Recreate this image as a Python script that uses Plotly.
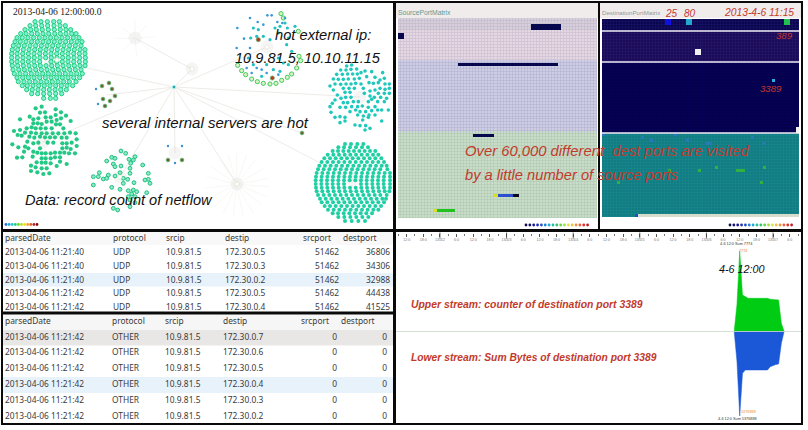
import numpy as np
import pandas as pd
import plotly.graph_objects as go

# ---------- network panel data (read in image crops: value/3 + offset = pixel) ----------
A_ROWS = [
 (20,[90,108,127,146,163]),
 (32,[75,92,110,128,147,165,181]),
 (44,[60,77,94,112,130,148,166,183,197]),
 (56,[47,63,80,97,114,131,149,166,183,200,213]),
 (68,[36,52,69,86,103,120,137,154,171,188,205,222]),
 (80,[30,46,63,80,97,114,131,148,165,182,199,216,231]),
 (92,[25,41,58,75,92,109,126,143,160,177,194,211,228]),
 (104,[22,38,55,72,89,106,123,140,157,174,191,208,225,240]),
 (116,[20,36,53,70,87,104,121,138,155,172,189,206,223,240]),
 (128,[20,37,54,71,88,105,122,139,156,173,190,207,224,241]),
 (140,[20,36,53,70,87,104,138,155,172,189,206,223,241]),
 (152,[22,38,55,72,89,106,123,140,157,174,191,208,225,240]),
 (164,[24,41,58,75,92,109,126,143,160,177,194,211,228]),
 (176,[28,45,62,79,96,113,130,147,164,181,198,215,232]),
 (188,[36,53,70,87,104,121,138,155,172,189,206,224]),
 (200,[40,57,74,91,108,125,142,159,176,193,213]),
 (212,[52,67,84,101,118,135,152,169,186,203]),
 (224,[65,82,99,116,133,150,167,184]),
 (236,[80,98,116,134,152,170]),
 (250,[116,136,152]),
]
F_ROWS = [
 (12,[105,123,142,160]),
 (22,[85,102,120,138,156,174]),
 (33,[68,84,100,116,132,148,164,180,196]),
 (44,[53,70,87,104,121,138,155,172,189,205]),
 (55,[43,60,77,94,111,128,145,162,179,196,214]),
 (66,[35,52,69,86,103,120,137,154,171,188,205,222]),
 (77,[28,45,62,79,96,113,130,147,164,181,198,215,230]),
 (88,[24,41,58,75,92,109,126,143,160,177,194,211,232]),
 (99,[20,37,54,71,88,105,122,139,156,173,190,207,224,240]),
 (110,[18,35,52,69,86,103,120,137,154,171,188,205,222,240]),
 (121,[17,34,51,68,85,102,119,136,153,170,187,204,221,240]),
 (132,[17,34,51,68,85,102,153,170,187,204,221,240]),
 (143,[18,35,52,69,86,103,120,137,154,171,188,205,222,240]),
 (154,[20,37,54,71,88,105,122,139,156,173,190,207,224,238]),
 (165,[24,41,58,75,92,109,126,143,160,177,194,211,230]),
 (176,[30,47,64,81,98,115,132,149,166,183,200,217,228]),
 (187,[35,52,69,86,103,120,137,154,171,188,205,222]),
 (198,[44,60,77,94,111,128,145,162,179,196,213]),
 (209,[54,71,88,105,122,139,156,173,190,205]),
 (220,[68,84,101,118,135,152,169,186]),
 (231,[85,103,121,139,157,175]),
 (243,[105,125,145,165]),
]
B_POINTS = [(92,25),(110,20),(152,28),(105,38),(120,37),(152,45),(168,37),(183,47),(74,50),(45,58),(85,58),(100,55),(122,52),(137,52),(155,60),(168,55),(197,63),(85,70),(98,70),(110,72),(125,65),(140,65),(153,73),(165,73),(65,85),(80,82),(92,85),(107,85),(122,85),(140,85),(175,85),(27,93),(45,90),(60,98),(78,98),(93,100),(110,100),(125,100),(143,100),(160,100),(178,100),(195,98),(212,100),(38,105),(50,107),(73,110),(88,113),(105,110),(120,112),(135,112),(150,112),(170,113),(185,113),(215,118),(67,125),(85,130),(100,128),(128,128),(145,128),(172,130),(185,130),(200,128),(215,138),(22,133),(40,142),(60,140),(70,145),(105,145),(172,145),(185,143),(197,147),(57,155),(85,155),(97,158),(110,160),(122,160),(137,160),(150,158),(165,158),(178,158),(192,160),(210,160),(36,173),(52,172),(83,170),(110,175),(122,175),(137,175),(150,172),(165,172),(95,187),(110,188),(122,188),(137,190),(155,198),(185,192),(165,185),(78,197),(92,202),(110,205),(125,205),(78,213),(97,217),(115,222),(133,220)]
C_POINTS = [(108,33),(122,40),(150,50),(80,52),(90,55),(65,63),(132,58),(145,60),(137,70),(173,75),(85,72),(90,80),(108,78),(135,85),(43,98),(70,105),(105,98),(135,100),(25,110),(40,110),(55,117),(65,115),(90,108),(115,115),(128,118),(190,100),(190,118),(180,120),(195,130),(25,135),(80,142),(115,130),(147,128),(105,148),(130,152),(145,150),(155,155),(140,162),(130,170),(150,170),(185,158),(135,180),(150,188),(135,200),(85,205),(98,210)]
E_POINTS = [(65,18),(80,15),(47,30),(63,30),(78,28),(95,27),(108,38),(35,43),(52,43),(68,42),(83,42),(97,42),(120,33),(140,35),(173,38),(25,57),(40,58),(55,58),(70,57),(88,57),(103,55),(125,50),(150,52),(165,60),(178,55),(15,78),(30,72),(47,73),(63,72),(78,72),(92,70),(108,72),(132,68),(145,70),(160,68),(180,72),(193,72),(25,90),(55,85),(72,85),(88,85),(115,85),(150,90),(165,85),(180,88),(193,85),(37,105),(60,97),(75,97),(118,100),(135,93),(160,100),(178,100),(193,100),(30,120),(48,115),(62,112),(78,112),(135,108),(148,112),(167,112),(185,115),(22,130),(55,128),(68,128),(85,125),(100,125),(130,125),(140,118),(158,125),(178,125),(15,140),(45,142),(62,142),(80,140),(98,140),(112,138),(130,142),(150,140),(170,150),(190,150),(18,157),(75,155),(92,150),(105,155),(122,155),(140,152),(158,150),(30,172),(45,170),(60,172),(98,165),(115,168),(132,165),(150,165),(45,188),(60,183),(113,180),(130,172),(90,195),(105,197),(122,197),(170,183),(120,210),(135,205)]
D_RINGS = [(153,17),(23,172),(35,188),(47,200),(65,213),(82,221),(100,226),(120,228),(138,226),(155,217),(172,208),(185,198),(200,180),(212,158),(207,145),(160,30),(205,70)]
D_BLUE = [(22,60),(60,30),(83,42),(100,50),(112,22),(125,22),(142,42),(157,45),(165,30),(42,92),(60,120),(20,120),(50,180),(65,195),(80,180),(95,185),(110,195),(145,200)]
D_TEAL = [(70,60),(85,65),(62,90),(80,85),(100,85),(135,60),(150,55),(172,60),(165,45),(175,90),(195,55),(120,95),(145,75),(170,110),(185,130),(150,190),(160,165),(175,170),(70,170),(55,150),(95,205),(130,185),(110,170),(145,150)]
D_HOT = [(85,95),(127,210)]
# pixel positions of the small nodes
G_HOT = [(102,86),(109,83),(112,89),(115,96),(103,99),(110,101),(105,106),(302,133),(168,160),(182,160)]
G_BLUE = [(98,104),(96,89),(168,146),(182,146),(175,163)]
HUB = (174,87)
EDGE_ENDS = [(50,60),(192,69),(267,47),(360,97),(43,142),(120,177),(353,180),(237,184),(175,153),(302,133),(107,95)]
EXTRA_EDGE = [(135,38),(192,69)]
STAR_BIG = [(710,460),(740,465),(765,480),(790,505),(805,535),(810,560),(800,590),(785,615),(760,640),(730,650),(700,650),(670,640),(645,620),(625,595),(615,565),(620,530),(635,500),(660,480),(685,465)]
STAR_TOP = [(405,60),(440,75),(465,110),(450,150),(410,170),(370,150),(345,115),(365,80)]
GLOW = [(50,60),(43,142),(120,177),(267,47),(360,97),(353,180),(237,184),(135,38),(175,153),(192,69)]
NET_LEGEND = ['#1f77d0','#1fa8e0','#22c8c8','#22cc88','#55dd33','#bbdd22','#eedd22','#f0a030','#e06030','#c02020','#801010']

# ---------- matrix data ----------
SRC_BAND_ENDS = [4,14,38,67]
SRC_COLORS = ['#d8cfdc','#e4d8e3','#cdcde3','#c8dcc8']
SRC_GAP = ['#c4bccc','#cfc0d2','#b6b6d4','#b4ccb6']
SRC_HOT_COLORS = ['#07074d','#2b4fd0','#0a0a20','#d8e020','#22c020']
SRC_HOT_ROW  = [2,3,5,6,15,39,59,59,59,64,64]
SRC_HOT_FROM = [44,44,0,0,20,25,32,33,38,12,13]
SRC_HOT_TO   = [53,53,1,1,52,31,32,37,39,12,18]
SRC_HOT_CODE = [0,0,0,0,0,0,3,1,2,3,4]

DST_BAND_ENDS = [4,14,38,66]
DST_COLORS = ['#0b0650','#1b0a58','#05004c','#127c84']
DST_GAP = ['#1b1668','#2a1a6c','#07025a','#1a8a8e']
DST_HOT_COLORS = ['#1010e0','#22a8cc','#22c050','#f0f0f0','#30a8e0','#2a78b8','#33b040','#d8dccc','#2050c0']
DST_HOT_ROW  = [0,1,0,1,0,1,10,11,20,36,37,38,39,40,38,40,41,39,41,50,50,49,50,49,54,54,65,65]
DST_HOT_FROM = [21,21,28,28,61,61,31,31,57,65,65,0,13,16,24,28,35,50,54,22,32,38,45,54,5,53,11,12]
DST_HOT_TO   = [22,22,29,29,62,62,32,32,57,65,65,0,13,16,24,28,36,50,54,22,32,38,47,54,5,53,11,65]
DST_HOT_CODE = [0,0,1,1,2,2,3,3,4,3,3,5,5,5,5,5,5,5,5,6,6,6,6,6,6,6,8,7]
MATRIX_LEGEND = ['#10104a','#14146a','#1a1a90','#2030b0','#2050d0','#2080d8','#20a8d0','#20c0a0','#30c860','#60d840','#a0e040','#e0e040','#f0c040','#f09040','#f06040','#e03030','#c02020']

# ---------- table data ----------
TABLE_HEADERS = ['parsedDate','protocol','srcip','destip','srcport','destport']
T1_DATE = ['2013-04-06 11:21:40','2013-04-06 11:21:40','2013-04-06 11:21:40','2013-04-06 11:21:42','2013-04-06 11:21:42']
T1_PROTO = ['UDP']*5
T1_SRC = ['10.9.81.5']*5
T1_DST = ['172.30.0.5','172.30.0.3','172.30.0.2','172.30.0.5','172.30.0.4']
T1_SPORT = [51462]*5
T1_DPORT = [36806,34306,32988,44438,41525]
T2_DATE = ['2013-04-06 11:21:42']*6
T2_PROTO = ['OTHER']*6
T2_SRC = ['10.9.81.5']*6
T2_DST = ['172.30.0.7','172.30.0.6','172.30.0.5','172.30.0.4','172.30.0.3','172.30.0.2']
T2_SPORT = [0]*6
T2_DPORT = [0]*6

# ---------- stream data ----------
STREAM_TIME = ['2013-04-06 10:00','2013-04-06 11:00','2013-04-06 12:00','2013-04-06 13:00','2013-04-06 14:00','2013-04-06 15:00','2013-04-06 16:00','2013-04-06 17:00','2013-04-06 18:00','2013-04-06 19:00','2013-04-06 20:00','2013-04-06 21:00','2013-04-06 22:00','2013-04-06 23:00','2013-04-07 00:00','2013-04-07 01:00','2013-04-07 02:00','2013-04-07 03:00','2013-04-07 04:00']
STREAM_COUNT = [0,2574,7774,3506,3345,3185,3185,3185,3185,3185,3185,3185,3185,3088,3060,3040,3024,772,0]
STREAM_BYTES = [0,1905000,5376888,2667000,2456000,2456000,2456000,2456000,2456000,2456000,2456000,2456000,2456000,2244000,2159000,2110000,2075000,762000,0]

W, H = 808, 430
def dom_y(top, bottom):
    return [1 - bottom / H, 1 - top / H]
def dom_x(left, right):
    return [left / W, right / W]

fig = go.Figure()

def from_crop(points, ox, oy):
    return [ox + p[0] / 3 for p in points], [oy + p[1] / 3 for p in points]
def from_rows(rows, ox, oy):
    pts = [(x, r[0]) for r in rows for x in r[1]]
    return from_crop(pts, ox, oy)

# edges
ex, ey = [], []
for p in EDGE_ENDS:
    ex += [HUB[0], p[0], None]; ey += [HUB[1], p[1], None]
ex += [EXTRA_EDGE[0][0], EXTRA_EDGE[1][0], None]; ey += [EXTRA_EDGE[0][1], EXTRA_EDGE[1][1], None]
fig.add_trace(go.Scatter(x=ex, y=ey, mode='lines', line=dict(color='#eeece8', width=1), hoverinfo='skip'))
# faint stars
sx, sy = [], []
for c, leaves in (((710,553), STAR_BIG), ((405,115), STAR_TOP)):
    for l in leaves:
        sx += [c[0]/3, l[0]/3, None]; sy += [c[1]/3, l[1]/3, None]
fig.add_trace(go.Scatter(x=sx, y=sy, mode='lines', line=dict(color='#f3f3f0', width=0.7), hoverinfo='skip'))
fig.add_trace(go.Scatter(x=[p[0] for p in GLOW], y=[p[1] for p in GLOW], mode='markers',
    marker=dict(size=13, color='rgba(210,210,210,0.22)'), hoverinfo='skip'))

def dots(x, y, color, size=4, line=None, lw=1):
    fig.add_trace(go.Scatter(x=x, y=y, mode='markers', hoverinfo='skip',
        marker=dict(size=size, color=color, line=dict(color=line or color, width=lw if line else 0))))

dots(*from_rows(A_ROWS, 5, 15), '#7ff0d8', 4.2, '#22cc78', 1)
dots(*from_crop(B_POINTS, 5, 100), '#22c884', 4.2)
dots(*from_crop(C_POINTS, 85, 140), '#8cebc8', 3.8, '#22c080', 1)
dots(*from_crop(E_POINTS, 325, 60), '#20c8bc', 3.6)
dots(*from_rows(F_ROWS, 310, 140), '#1fd0a4', 4)
dots(*from_crop(D_RINGS, 230, 8), '#d8f4c0', 4.2, '#44c860', 1)
dots(*from_crop(D_BLUE, 230, 8), '#3a9ad8', 2.6)
dots(*from_crop(D_TEAL, 230, 8), '#22c0c0', 3.2)
dots(*from_crop(D_HOT, 230, 8), '#b8341c', 4.2, '#70b070', 0.8)
dots([p[0] for p in G_HOT], [p[1] for p in G_HOT], '#7a5a30', 3.6, '#5fb070', 1)
dots([p[0] for p in G_BLUE], [p[1] for p in G_BLUE], '#3a90d8', 2.4)
dots([HUB[0]], [HUB[1]], '#1a9a9a', 3.2, '#9af0f0', 1)
dots([57, 192, 237, 267, 120], [60, 69, 184, 47, 177], '#ffffff', 4, '#e0e0c8', 0.6)
for i, c in enumerate(NET_LEGEND):
    dots([6 + i * 3.1], [224.5], c, 2.8)
for i, c in enumerate(MATRIX_LEGEND):
    dots([526 + i * 3.85], [225], c, 2.8)
    dots([730 + i * 3.85], [225], c, 2.8)

# matrices: a gridded base layer and a solid layer for the hot cells
def build_bands(ends, n_cols):
    z = np.zeros((ends[-1], n_cols), dtype=int)
    start = 0
    for k, e in enumerate(ends):
        z[start:e, :] = k
        start = e
    return z
def build_hot(n_rows, n_cols, rows, froms, tos, codes):
    z = np.full((n_rows, n_cols), np.nan)
    for r, a, b, c in zip(rows, froms, tos, codes):
        z[r, a:b + 1] = c
    return z
def discrete(colors):
    n = len(colors)
    out = []
    for i, c in enumerate(colors):
        out += [[i / n, c], [(i + 1) / n, c]]
    return out
def add_matrix(ends, colors, hot_colors, rows, froms, tos, codes, xa, ya, gap):
    base = build_bands(ends, 66)
    fig.add_trace(go.Heatmap(z=base, xaxis=xa, yaxis=ya, colorscale=discrete(colors), zmin=-0.5,
        zmax=len(colors)-0.5, showscale=False, xgap=gap, ygap=gap, hoverinfo='skip'))
    fig.add_trace(go.Heatmap(z=build_hot(ends[-1], 66, rows, froms, tos, codes), xaxis=xa, yaxis=ya,
        colorscale=discrete(hot_colors), zmin=-0.5, zmax=len(hot_colors)-0.5, showscale=False, hoverinfo='skip'))

add_matrix(SRC_BAND_ENDS, SRC_COLORS, SRC_HOT_COLORS, SRC_HOT_ROW, SRC_HOT_FROM, SRC_HOT_TO, SRC_HOT_CODE, 'x2', 'y2', 0.7)
add_matrix(DST_BAND_ENDS, DST_COLORS, DST_HOT_COLORS, DST_HOT_ROW, DST_HOT_FROM, DST_HOT_TO, DST_HOT_CODE, 'x3', 'y3', 0.5)

# stream
fig.add_trace(go.Scatter(x=STREAM_TIME, y=STREAM_COUNT, xaxis='x4', yaxis='y4', mode='lines', fill='tozeroy',
    fillcolor='#00cc14', line=dict(color='#00cc14', width=0.5), hoverinfo='skip'))
fig.add_trace(go.Scatter(x=STREAM_TIME, y=STREAM_BYTES, xaxis='x4', yaxis='y5', mode='lines', fill='tozeroy',
    fillcolor='#1a58d8', line=dict(color='#1a58d8', width=0.5), hoverinfo='skip'))

# tables as text
TEXT = '#3a3a3a'
def table_text(cols, xs, aligns, y0, dy, size=8.4):
    for col, x, al in zip(cols, xs, aligns):
        fig.add_trace(go.Scatter(x=[x]*len(col), y=[y0 + i*dy for i in range(len(col))], mode='text',
            text=[str(v) for v in col], textposition='middle right' if al == 'l' else 'middle left',
            textfont=dict(family='Noto Sans', size=size, color=TEXT), hoverinfo='skip', cliponaxis=False))

t1_x = [5, 113, 166, 225, 339, 390]
t2_x = [5, 112, 165, 223, 337, 387]
aligns = ['l','l','l','l','r','r']
table_text([[h] for h in TABLE_HEADERS[:4]], t1_x[:4], aligns[:4], 238.5, 0)
table_text([[TABLE_HEADERS[4]]], [303], ['l'], 238.5, 0)
table_text([[TABLE_HEADERS[5]]], [343], ['l'], 238.5, 0)
table_text([T1_DATE,T1_PROTO,T1_SRC,T1_DST,T1_SPORT,T1_DPORT], t1_x, aligns, 253, 13.8)
table_text([[h] for h in TABLE_HEADERS[:4]], t2_x[:4], aligns[:4], 322, 0)
table_text([[TABLE_HEADERS[4]]], [301], ['l'], 322, 0)
table_text([[TABLE_HEADERS[5]]], [341], ['l'], 322, 0)
table_text([T2_DATE,T2_PROTO,T2_SRC,T2_DST,T2_SPORT,T2_DPORT], t2_x, aligns, 337.5, 15.8)

# shapes
shapes = []
def rect(x0, y0, x1, y1, color, layer='below'):
    shapes.append(dict(type='rect', xref='x', yref='y', x0=x0, y0=y0, x1=x1, y1=y1,
        fillcolor=color, line=dict(width=0), layer=layer))
# panel strips and highlighted rows
rect(396, 3, 600, 18, '#f1ecec'); rect(600, 3, 802, 18, '#f1ecec')
rect(3, 273, 393, 286.5, '#e8f2fb')
rect(3, 315, 393, 330, '#f6f6f6')
rect(3, 330, 393, 345.5, '#e9e7e6')
rect(3, 377, 393, 393, '#e8f2fb')
rect(3, 232, 393, 245, '#f8f8f8')
# grid colour under the heatmaps
for tops, gap, x0, x1, top0 in (((31,61,133,218), SRC_GAP, 398, 597, 18), ((31,61,133,217), DST_GAP, 602, 799, 19)):
    t = top0
    for b, c in zip(tops, gap):
        rect(x0, t, x1, b, c)
        t = b
# white separators in the destination matrix
for yy in (31, 62, 133):
    rect(602, yy - 0.7, 799, yy + 0.7, '#f2eef6', layer='above')
# stream centre line
rect(396, 330.9, 802, 331.7, '#c9d4c9', layer='above')
# black frames
for (x0, y0, x1, y1) in ((1,1,803,3),(1,1,3,425),(393,1,396,425),(801,1,803,425),(1,423,803,425),
                         (1,229,803,232),(1,311.5,396,314.5),(598,3,600,229)):
    rect(x0, y0, x1, y1, '#0a0a0a', layer='above')
# day ticks on the time axis
DAYS = ['2013-04-02','2013-04-03','2013-04-04','2013-04-05','2013-04-06','2013-04-07']
for d in DAYS:
    shapes.append(dict(type='line', xref='x4', yref='paper', x0=d, x1=d, y0=1-232.5/H, y1=1-238.5/H,
        line=dict(color='#444444', width=0.8), layer='above'))

# annotations
anns = []
def note(text, x, y, size, color='#111111', family='Liberation Sans', anchor='left'):
    anns.append(dict(text=text, x=x, y=y, xref='x', yref='y', xanchor=anchor, yanchor='middle', showarrow=False,
        font=dict(family=family, size=size, color=color), borderpad=0, borderwidth=0))
RED = '#c23a2c'
note('2013-04-06 12:00:00.0', 13, 11, 9.6, '#222222', 'Liberation Serif')
note('<i>hot external ip:</i>', 275, 35, 14.7)
note('<i>10.9.81.5, 10.10.11.15</i>', 235, 58, 14.6)
note('<i>several internal servers are hot</i>', 102, 122, 15)
note('<i>Data: record count of netflow</i>', 25, 200, 14.6)
note('SourcePortMatrix', 398, 12, 6.8, '#5e9a90')
note('DestinationPortMatrix', 602, 12, 6.1, '#8a9a98')
note('<i>25</i>', 665, 13, 10, RED)
note('<i>80</i>', 684, 13, 10, RED)
note('<i>2013-4-6 11:15</i>', 724, 12, 10.3, RED)
note('<i>389</i>', 776, 35, 9.6, RED)
note('<i>3389</i>', 760, 88.5, 9.6, RED)
note('<i>Over 60,000 different  dest ports are visited</i>', 465, 150.5, 14.8, RED)
note('<i>by a little number of source ports</i>', 465, 174.5, 14.7, RED)
note('<b><i>Upper stream: counter of destination port 3389</i></b>', 411, 304, 10.4, RED)
note('<b><i>Lower stream: Sum Bytes of destination port 3389</i></b>', 411, 357, 10.3, RED)
note('<i>4-6 12:00</i>', 719, 269, 10.8, '#111111')
note('4-6 12:0 Sum 7774', 720, 244, 3.8, '#333333')
note('7774', 739, 251, 3.8, '#f09030')
note('5376888', 741, 412, 3.8, '#f09030')
note('4-6 12:0 Sum 5376888', 718, 419, 3.8, '#333333')

# time axis ticks
tick_times = pd.date_range('2013-04-01 12:00', '2013-04-07 06:00', freq='6h')
tick_text = [f'13/4/{t.day}' if t.hour == 0 else f'{t.hour}:0' for t in tick_times]

hidden = dict(visible=False, fixedrange=True)
fig.update_layout(
    width=W, height=H, autosize=False, margin=dict(l=0, r=0, t=0, b=0, pad=0),
    paper_bgcolor='white', plot_bgcolor='rgba(0,0,0,0)', showlegend=False,
    shapes=shapes, annotations=anns,
    xaxis=dict(domain=[0,1], range=[0,W], **hidden),
    yaxis=dict(domain=[0,1], range=[H,0], **hidden),
    xaxis2=dict(domain=dom_x(398,597), range=[-0.5,65.5], anchor='y2', **hidden),
    yaxis2=dict(domain=dom_y(18,218), range=[66.5,-0.5], anchor='x2', **hidden),
    xaxis3=dict(domain=dom_x(602,799), range=[-0.5,65.5], anchor='y3', **hidden),
    yaxis3=dict(domain=dom_y(19,217), range=[65.5,-0.5], anchor='x3', **hidden),
    xaxis4=dict(domain=dom_x(396,802), type='date', range=['2013-04-01 08:10','2013-04-07 10:26'],
        anchor='free', position=1-232.5/H, side='bottom', ticks='outside', ticklen=3, tickwidth=0.6,
        tickcolor='#555555', showline=False, showgrid=False, zeroline=False, fixedrange=True,
        tickmode='array', tickvals=[t.strftime('%Y-%m-%d %H:%M') for t in tick_times], ticktext=tick_text,
        tickfont=dict(size=3.6, color='#777777', family='Liberation Sans'), tickangle=0,
        minor=dict(dtick=3*3600*1000, ticks='outside', ticklen=2, tickwidth=0.5, tickcolor='#777777', showgrid=False)),
    yaxis4=dict(domain=dom_y(250.7,331.3), range=[0,7774], anchor='x4', **hidden),
    yaxis5=dict(domain=dom_y(331.3,416), range=[5376888,0], anchor='x4', **hidden),
)
fig.write_html('out.html', config=dict(displayModeBar=False), post_script="document.body.style.margin='0';")
